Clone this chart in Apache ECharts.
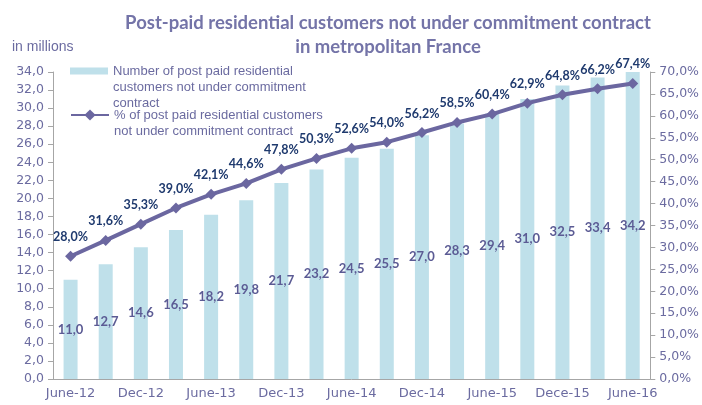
<!DOCTYPE html>
<html>
<head>
<meta charset="utf-8">
<script src="https://cdn.jsdelivr.net/npm/echarts@6/dist/echarts.min.js"></script>
<style>
  html, body { margin: 0; padding: 0; background: #fff; }
  #chart { width: 702px; height: 405px; }
</style>
</head>
<body>
<div id="chart"></div>
<script>
// quarters, only every other one gets a label
const quarters = ['June-12', 'Sept-12', 'Dec-12', 'Mar-13', 'June-13', 'Sept-13', 'Dec-13', 'Mar-14',
  'June-14', 'Sept-14', 'Dec-14', 'Mar-15', 'June-15', 'Sept-15', 'Dece-15', 'Mar-16', 'June-16']
// millions of customers
const customers = [11.0, 12.7, 14.6, 16.5, 18.2, 19.8, 21.7, 23.2, 24.5, 25.5, 27.0, 28.3, 29.4, 31.0, 32.5, 33.4, 34.2]
// share of post paid residential customers, %
const share = [28.0, 31.6, 35.3, 39.0, 42.1, 44.6, 47.8, 50.3, 52.6, 54.0, 56.2, 58.5, 60.4, 62.9, 64.8, 66.2, 67.4]

const barName = 'Number of post paid residential\ncustomers not under commitment\ncontract'
const lineName = '% of post paid residential customers\nnot under commitment contract'

const axisColor = '#6b6ba0'
const calibri = 'Lato, "Open Sans", sans-serif'
const wide = '"DejaVu Sans", sans-serif'
const arial = '"Liberation Sans", Arial, sans-serif'
const comma = (v, d) => v.toFixed(d).replace('.', ',')

// legend text is centred on the icon, so pad with leading blank lines
// to put the first line level with the icon
const topAlign = (name) => '\n'.repeat(name.split('\n').length - 1) + name

const chart = echarts.init(document.getElementById('chart'))

const option = {
  animation: false,
  title: {
    text: 'Post-paid residential customers not under commitment contract\nin metropolitan France',
    left: 383,
    top: 6,
    textAlign: 'center',
    textStyle: {
      color: '#7474a8',
      fontSize: 18.5,
      fontWeight: 'bold',
      fontFamily: calibri,
      lineHeight: 24
    }
  },
  graphic: [
    {
      type: 'text',
      left: 12,
      top: 40,
      style: { text: 'in millions', fill: axisColor, font: '14px ' + arial }
    }
  ],
  // one legend per item so each can be placed on its own
  legend: [
    {
      left: 70,
      top: 31,
      padding: 0,
      itemWidth: 38,
      itemHeight: 7,
      data: [{ name: barName, icon: 'rect' }],
      formatter: topAlign,
      textStyle: { color: axisColor, fontSize: 13, lineHeight: 16, fontFamily: arial }
    },
    {
      left: 70,
      top: 91,
      padding: 0,
      itemWidth: 38,
      itemHeight: 14,
      data: [{ name: lineName }],
      formatter: topAlign,
      textStyle: { color: axisColor, fontSize: 13, lineHeight: 16, fontFamily: arial }
    }
  ],
  grid: {
    left: 53,
    right: 51,
    top: 72,
    bottom: 26
  },
  xAxis: {
    type: 'category',
    data: quarters,
    axisLine: { lineStyle: { color: '#a6a6a6' } },
    axisTick: { interval: 0, length: 5, lineStyle: { color: '#a6a6a6' } },
    axisLabel: {
      interval: 1,
      color: axisColor,
      fontSize: 13,
      fontFamily: wide,
      margin: 8
    }
  },
  yAxis: [
    {
      type: 'value',
      min: 0,
      max: 34,
      interval: 2,
      axisLine: { show: true, lineStyle: { color: '#a6a6a6' } },
      axisTick: { show: true, length: 5, lineStyle: { color: '#a6a6a6' } },
      splitLine: { show: false },
      axisLabel: {
        color: axisColor,
        fontSize: 12.5,
        fontFamily: wide,
        margin: 9,
        formatter: (v) => comma(v, 1)
      }
    },
    {
      type: 'value',
      min: 0,
      max: 70,
      interval: 5,
      position: 'right',
      axisLine: { show: true, lineStyle: { color: '#a6a6a6' } },
      axisTick: { show: true, length: 5, lineStyle: { color: '#a6a6a6' } },
      splitLine: { show: false },
      axisLabel: {
        color: axisColor,
        fontSize: 12.5,
        fontFamily: wide,
        margin: 9,
        formatter: (v) => comma(v, 1) + '%'
      }
    }
  ],
  series: [
    {
      name: barName,
      type: 'bar',
      data: customers,
      barWidth: 14,
      itemStyle: { color: '#bfe0ea' },
      label: {
        show: true,
        position: 'inside',
        color: '#5b5b94',
        fontWeight: 'bold',
        fontSize: 13,
        fontFamily: calibri,
        formatter: (p) => comma(p.value, 1)
      }
    },
    {
      name: lineName,
      type: 'line',
      yAxisIndex: 1,
      data: share,
      symbol: 'diamond',
      symbolSize: 11,
      lineStyle: { color: '#6b67a0', width: 4 },
      itemStyle: { color: '#6b67a0' },
      label: {
        show: true,
        position: 'top',
        distance: 7,
        color: '#1f3a6e',
        fontWeight: 'bold',
        fontSize: 12.5,
        fontFamily: calibri,
        formatter: (p) => comma(p.value, 1) + '%'
      },
      z: 3
    }
  ]
}

chart.setOption(option)
</script>
</body>
</html>
